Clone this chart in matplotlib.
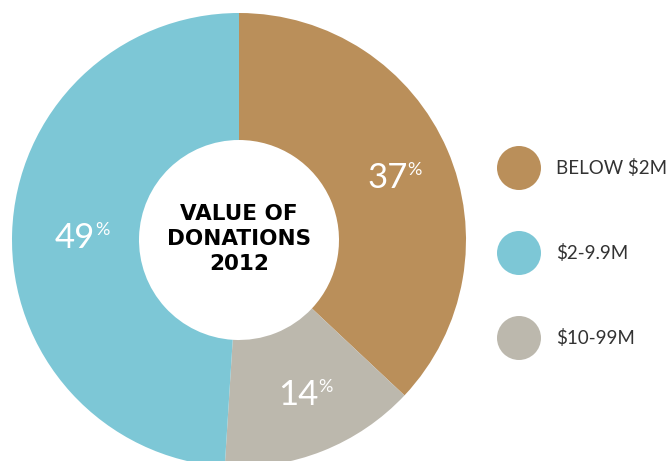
import matplotlib.pyplot as plt
import numpy as np

categories = ['BELOW $2M', '$2-9.9M', '$10-99M']
shares = [37, 49, 14]
colors = ['#BA8F5A', '#7DC7D6', '#BCB8AD']
# drawing order round the ring (clockwise from top)
ring_order = [0, 2, 1]

fig = plt.figure(figsize=(6.72, 4.61), dpi=100)
ax = fig.add_axes([0, 0, 1, 1])

cx, cy, R = 239, 221, 227
vals = [shares[i] for i in ring_order]
cols = [colors[i] for i in ring_order]
wedges, _ = ax.pie(vals, colors=cols, startangle=90, counterclock=False,
                   center=(cx, cy), radius=R, frame=True,
                   wedgeprops=dict(width=127, linewidth=0))
ax.set_xlim(0, 672)
ax.set_ylim(0, 461)
ax.set_aspect('equal')
ax.axis('off')

# percent labels
fam = ['Lato', 'DejaVu Sans']
for w, v in zip(wedges, vals):
    ang = np.deg2rad((w.theta1 + w.theta2) / 2)
    x = cx + 163 * np.cos(ang)
    y = cy + 163 * np.sin(ang)
    ax.text(x + 19, y - 3, str(v), ha='right', va='center', color='white',
            fontsize=25, family=fam)
    ax.text(x + 19, y + 5, '%', ha='left', va='center', color='white',
            fontsize=13, family=fam)

# centre title
ax.text(cx, cy + 1, 'VALUE OF\nDONATIONS\n2012', ha='center', va='center',
        fontsize=15.5, fontweight='bold', family=['DejaVu Sans'],
        linespacing=1.3, color='black')

# legend
for k, (lab, c) in enumerate(zip(categories, colors)):
    ly = 461 - (168 + 85 * k)
    ax.add_patch(plt.Circle((519, ly), 22, color=c, lw=0))
    ax.text(556, ly, lab, ha='left', va='center', fontsize=13.5,
            family=fam, color='#333333')

fig.savefig('out.png', dpi=100)
